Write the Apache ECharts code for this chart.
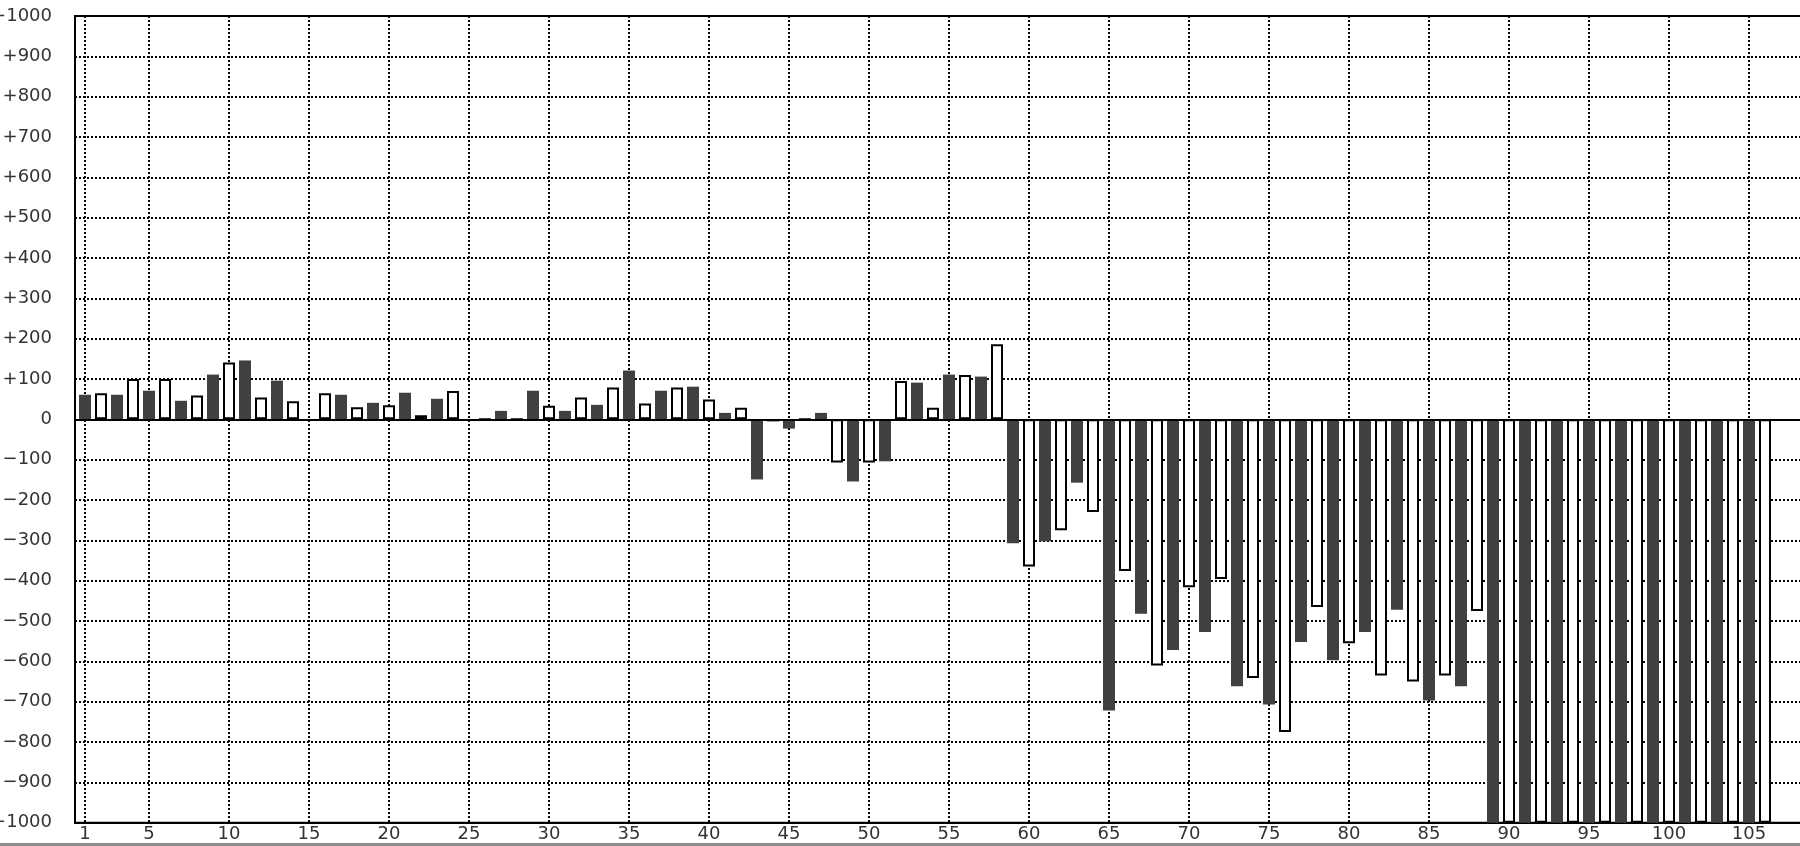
<!DOCTYPE html>
<html><head><meta charset="utf-8">
<script src="https://cdn.jsdelivr.net/npm/echarts@6/dist/echarts.min.js"></script>
<style>html,body{margin:0;padding:0;background:#fff}#c{width:1800px;height:846px}</style>
</head><body><div id="c"></div>
<script>
const categories = [1,2,3,4,5,6,7,8,9,10,11,12,13,14,15,16,17,18,19,20,
  21,22,23,24,25,26,27,28,29,30,31,32,33,34,35,36,37,38,39,40,
  41,42,43,44,45,46,47,48,49,50,51,52,53,54,55,56,57,58,59,60,
  61,62,63,64,65,66,67,68,69,70,71,72,73,74,75,76,77,78,79,80,
  81,82,83,84,85,86,87,88,89,90,91,92,93,94,95,96,97,98,99,100,
  101,102,103,104,105,106];
const values = [61,65,61,100,71,100,46,59,111,141,146,54,96,45,0,65,61,30,41,35,
  66,10,51,70,0,0,21,0,71,34,21,54,36,79,121,39,71,79,81,49,
  16,29,-149,-5,-23,0,16,-107,-154,-107,-104,95,91,29,111,110,106,186,-307,-365,
  -302,-275,-157,-230,-722,-376,-482,-610,-572,-416,-527,-396,-662,-641,-707,-775,-552,-465,-597,-555,
  -527,-635,-472,-650,-697,-635,-662,-475,-1000,-1000,-1000,-1000,-1000,-1000,-1000,-1000,-1000,-1000,
  -1000,-1000,-1000,-1000,-1000,-1000,-1000,-1000];
const xTickLabels = [1,5,10,15,20,25,30,35,40,45,50,55,60,65,70,75,80,85,90,95,100,105];
const yTicks = {min:-1000, max:1000, step:100};

const darkStyle = {color:'#404040', borderColor:'#404040', borderWidth:0};
const whiteStyle = {color:'#ffffff', borderColor:'#000000', borderWidth:2};

const gridLeft = 75, gridWidth = 1735, catPx = 16, firstCatX = 85;
const xMin = 1 - (firstCatX - gridLeft) / catPx;
const xMax = xMin + gridWidth / catPx;

const chart = echarts.init(document.getElementById('c'), null, {renderer:'canvas'});
const fontFamily = 'DejaVu Sans';
chart.setOption({
  animation:false,
  backgroundColor:'#ffffff',
  grid:{left:gridLeft, top:16, width:gridWidth, height:806.7, show:true,
        borderColor:'#000', borderWidth:2, backgroundColor:'#fff',
        containLabel:false, outerBoundsMode:'none'},
  xAxis:{
    type:'value', min:xMin, max:xMax,
    axisLine:{show:true, onZero:false, lineStyle:{color:'#000', width:2}},
    axisTick:{show:false, customValues:xTickLabels},
    axisLabel:{customValues:xTickLabels, fontSize:18, color:'#333', fontFamily:fontFamily, margin:3},
    splitLine:{show:true, lineStyle:{color:'#000', type:[2,2], width:2}}
  },
  yAxis:{
    type:'value', min:yTicks.min, max:yTicks.max, interval:yTicks.step,
    axisLine:{show:true, lineStyle:{color:'#000', width:2}},
    axisTick:{show:false},
    axisLabel:{fontSize:18, color:'#333', fontFamily:fontFamily, margin:23,
      formatter:function(v){ return v>0 ? '+'+v : (v<0 ? '\u2212'+Math.abs(v) : '0'); }},
    splitLine:{show:true, lineStyle:{color:'#000', type:[2,2], width:2}}
  },
  series:[{
    type:'bar', barWidth:12,
    data:categories.map(function(c,i){
      return {value:[c, values[i]], itemStyle:(c % 2 === 1 ? darkStyle : whiteStyle)};
    }),
    markLine:{silent:true, symbol:'none', label:{show:false}, animation:false,
      lineStyle:{color:'#000', type:'solid', width:2}, data:[{yAxis:0}]}
  }],
  graphic:[{type:'rect', left:0, top:843, shape:{width:1800, height:3}, style:{fill:'#8c8c8c'}, z:100}]
});
</script></body></html>
